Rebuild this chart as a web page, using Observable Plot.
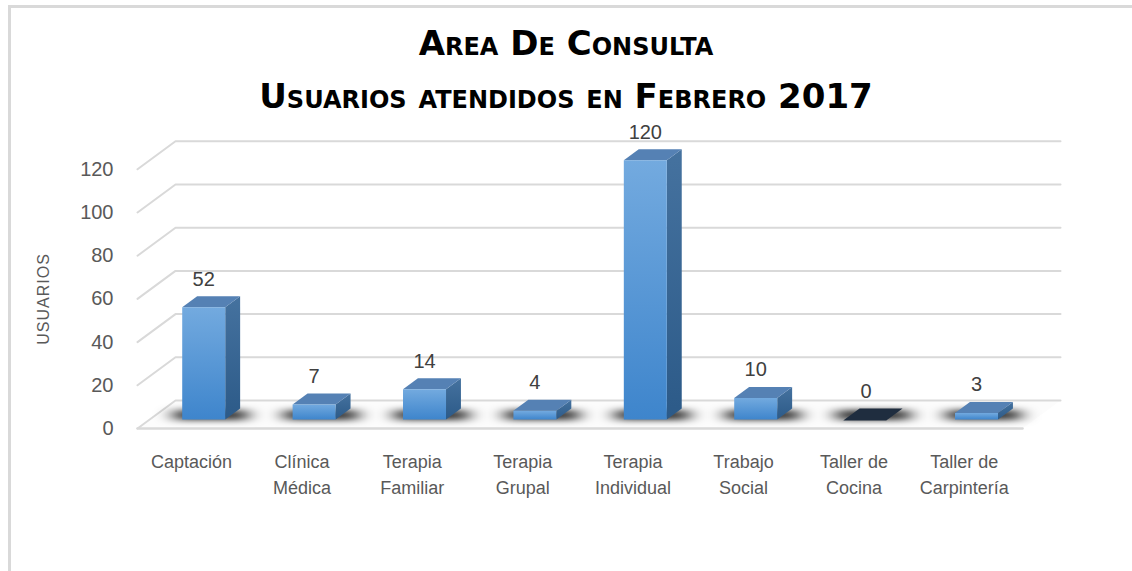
<!DOCTYPE html>
<html>
<head>
<meta charset="utf-8">
<script src="https://cdn.jsdelivr.net/npm/d3@7"></script>
<script src="https://cdn.jsdelivr.net/npm/@observablehq/plot@0.6"></script>
<style>
  html, body { margin: 0; padding: 0; background: #fff; width: 1132px; height: 571px; overflow: hidden; }
  #frame { position: absolute; left: 8px; top: 5px; width: 1200px; height: 700px; border: 3px solid #d9d9d9; box-sizing: border-box; z-index: 2; pointer-events: none; }
  #title { position: absolute; left: 0; top: 0; width: 1132px; height: 120px; font-family: "DejaVu Sans", sans-serif; font-weight: bold; font-size: 34px; font-variant: small-caps; color: #000; text-align: center; }
  #title div { position: absolute; left: 0; width: 1132px; line-height: 40px; white-space: nowrap; }
  #chart { position: absolute; left: 0; top: 120px; }
</style>
</head>
<body>
<div id="frame"></div>
<div id="title"></div>
<div id="chart"></div>
<script>
// ---- data ----
const titleLines = ["Area De Consulta", "Usuarios atendidos en Febrero 2017"];
const yLabel = "USUARIOS";
const categories = ["Captación", "Clínica Médica", "Terapia Familiar", "Terapia Grupal", "Terapia Individual", "Trabajo Social", "Taller de Cocina", "Taller de Carpintería"];
const usuarios = [52, 7, 14, 4, 120, 10, 0, 3];
const yTicks = [0, 20, 40, 60, 80, 100, 120];

// ---- title ----
const titleEl = document.getElementById("title");
titleLines.forEach((t, k) => {
  const d = document.createElement("div");
  d.textContent = t;
  d.style.top = (23 + k * 53) + "px";
  titleEl.appendChild(d);
});

// ---- layout of the pseudo-3D scene ----
const xRange = [191, 963.8], yRange = [308, 48.8];
const PX = (xRange[1] - xRange[0]) / (categories.length - 1);   // px per category
const PY = (yRange[0] - yRange[1]) / 120;                          // px per unit
const DXR = 38 / 28;                 // horizontal px per px of depth
const L = -54 / PX, R = 831 / PX;    // floor / wall extent (in category units)
const FLOOR = 28, D1 = 9, D2 = 20, HW = 21.5 / PX;
const P = (x, y, d, key) => ({x: x + d * DXR / PX, y: y + d / PY, key});

const gridPts = yTicks.flatMap(v => [P(L, v, 0, v), P(L, v, FLOOR, v), P(R, v, FLOOR, v)]);
const floorPts = [P(L, 0, 0, "f"), P(R, 0, 0, "f"), P(R, 0, FLOOR, "f"), P(L, 0, FLOOR, "f")];
const frontEdge = [P(L, 0, 0, "e"), P(R, 0, 0, "e")];

const bars = categories.map((c, i) => ({c, i, v: usuarios[i]}));
const sidePts = bars.filter(b => b.v > 0).flatMap(({i, v}) => [P(i + HW, 0, D1, i), P(i + HW, 0, D2, i), P(i + HW, v, D2, i), P(i + HW, v, D1, i)]);
const topPts = bars.filter(b => b.v > 0).flatMap(({i, v}) => [P(i - HW, v, D1, i), P(i + HW, v, D1, i), P(i + HW, v, D2, i), P(i - HW, v, D2, i)]);
const zeroPts = bars.filter(b => b.v === 0).flatMap(({i, v}) => [P(i - HW, v, D1 - 1, i), P(i + HW, v, D1 - 1, i), P(i + HW, v, D2, i), P(i - HW, v, D2, i)]);
const frontPts = bars.filter(b => b.v > 0).flatMap(({i, v}) => [P(i - HW, 0, D1, i), P(i + HW, 0, D1, i), P(i + HW, v, D1, i), P(i - HW, v, D1, i)]);
const shadows = bars.map(({i}) => ({x1: i - HW + D1 * DXR / PX - 8 / PX, x2: i + HW + D2 * DXR / PX + 8 / PX, y1: 8 / PY, y2: 18 / PY}));

const svg = Plot.plot({
  width: 1132,
  height: 451,
  marginLeft: 0, marginRight: 0, marginTop: 0, marginBottom: 0,
  style: {fontFamily: "'Liberation Sans', Arial, sans-serif", background: "transparent", overflow: "visible"},
  x: {type: "linear", domain: [0, categories.length - 1], range: xRange, axis: null},
  y: {type: "linear", domain: [0, 120], range: yRange, axis: null},
  marks: [
    Plot.line(floorPts, {x: "x", y: "y", z: "key", fill: "#fcfcfc", stroke: "none"}),
    Plot.line(gridPts, {x: "x", y: "y", z: "key", stroke: "#d9d9d9", strokeWidth: 2}),
    Plot.line(frontEdge, {x: "x", y: "y", z: "key", stroke: "#d9d9d9", strokeWidth: 2.5}),
    Plot.rect(shadows, {x1: "x1", x2: "x2", y1: "y1", y2: "y2", fill: "#000", fillOpacity: 0.8}),
    Plot.line(sidePts, {x: "x", y: "y", z: "key", fill: "url(#barSide)", stroke: "none"}),
    Plot.line(topPts, {x: "x", y: "y", z: "key", fill: "#5581b4", stroke: "none"}),
    Plot.line(zeroPts, {x: "x", y: "y", z: "key", fill: "#1f2d3f", stroke: "none"}),
    Plot.line(frontPts, {x: "x", y: "y", z: "key", fill: "url(#barFront)", stroke: "none"}),
    Plot.text(yTicks, {x: () => L, y: d => d, text: d => String(d), textAnchor: "end", dx: -24, fontSize: 20, fill: "#595959"}),
    Plot.text(bars, {x: d => d.i + D1 * DXR / PX, y: d => d.v + D2 / PY, text: d => String(d.v), dy: -17, fontSize: 20, fill: "#404040"}),
    Plot.text(bars, {x: d => d.i, y: () => -21.2 / PY, text: d => d.c.replace(/ (?=[^ ]*$)/, "\n"), lineAnchor: "top", lineHeight: 1.45, fontSize: 18, fill: "#595959"}),
    Plot.text([yLabel], {frameAnchor: "left", y: () => 60, dx: 43, text: d => d, rotate: -90, textAnchor: "middle", fontSize: 16, fill: "#595959"})
  ]
});

const s = d3.select(svg);
const defs = s.insert("defs", ":first-child");
const gf = defs.append("linearGradient").attr("id", "barFront").attr("x1", 0).attr("y1", 0).attr("x2", 0).attr("y2", 1);
gf.append("stop").attr("offset", "0%").attr("stop-color", "#73aadf");
gf.append("stop").attr("offset", "100%").attr("stop-color", "#3e85cc");
const gs = defs.append("linearGradient").attr("id", "barSide").attr("x1", 0).attr("y1", 0).attr("x2", 0).attr("y2", 1);
gs.append("stop").attr("offset", "0%").attr("stop-color", "#45729f");
gs.append("stop").attr("offset", "100%").attr("stop-color", "#2c5a88");
const flt = defs.append("filter").attr("id", "shadowBlur").attr("x", "-50%").attr("y", "-150%").attr("width", "200%").attr("height", "400%");
flt.append("feGaussianBlur").attr("stdDeviation", "9 3");
s.selectAll('g[aria-label="rect"]').attr("filter", "url(#shadowBlur)");
s.selectAll("text").filter(function () { return this.textContent === yLabel; }).attr("letter-spacing", "1px");

document.getElementById("chart").appendChild(svg);
</script>
</body>
</html>
